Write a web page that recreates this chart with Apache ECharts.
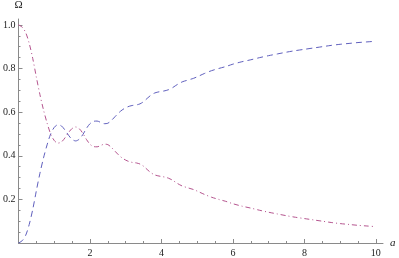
<!DOCTYPE html>
<html>
<head>
<meta charset="utf-8">
<script src="https://cdn.jsdelivr.net/npm/echarts@6/dist/echarts.min.js"></script>
<style>
html,body{margin:0;padding:0;background:#fff;}
#chart{width:399px;height:258px;}
</style>
</head>
<body>
<div id="chart"></div>
<script>
// a values
var aValues = [0,0.1,0.2,0.3,0.4,0.5,0.6,0.7,0.8,0.9,1.0,1.1,1.2,1.3,1.4,1.5,1.6,1.7,1.8,1.9,2.0,2.1,2.2,2.3,2.4,2.5,2.6,2.7,2.8,2.9,3.0,3.1,3.2,3.3,3.4,3.5,3.6,3.7,3.8,3.9,4.0,4.1,4.2,4.3,4.4,4.5,4.6,4.7,4.8,4.9,5.0,5.2,5.4,5.6,5.8,6.0,6.25,6.5,6.75,7.0,7.25,7.5,7.75,8.0,8.25,8.5,8.75,9.0,9.25,9.5,9.75,10];
// blue dashed series
var blueValues = [0,0.01,0.035,0.085,0.155,0.24,0.32,0.39,0.45,0.5,0.53,0.542,0.537,0.518,0.494,0.475,0.468,0.476,0.497,0.525,0.547,0.558,0.559,0.553,0.547,0.549,0.562,0.579,0.596,0.61,0.62,0.627,0.631,0.633,0.638,0.648,0.663,0.677,0.687,0.692,0.695,0.698,0.703,0.711,0.722,0.732,0.74,0.745,0.75,0.755,0.762,0.777,0.79,0.8,0.809,0.82,0.831,0.84,0.85,0.859,0.867,0.875,0.882,0.888,0.894,0.9,0.906,0.911,0.915,0.919,0.922,0.925];
// red dot-dashed series
var redValues = [1,0.99,0.965,0.915,0.845,0.76,0.68,0.61,0.55,0.5,0.47,0.458,0.463,0.482,0.506,0.525,0.532,0.524,0.503,0.475,0.453,0.442,0.441,0.447,0.453,0.451,0.438,0.421,0.404,0.39,0.38,0.373,0.369,0.367,0.362,0.352,0.337,0.323,0.313,0.308,0.305,0.302,0.297,0.289,0.278,0.268,0.26,0.255,0.25,0.245,0.238,0.223,0.21,0.2,0.191,0.18,0.169,0.16,0.15,0.141,0.133,0.125,0.118,0.112,0.106,0.1,0.094,0.089,0.085,0.081,0.078,0.075];
// tick labels
var xMajorTicks = [2,4,6,8,10];
var xMinorTicks = [0.5,1,1.5,2.5,3,3.5,4.5,5,5.5,6.5,7,7.5,8.5,9,9.5];
var yMajorTicks = [0.2,0.4,0.6,0.8,1.0];
var yMinorTicks = [0.05,0.1,0.15,0.25,0.3,0.35,0.45,0.5,0.55,0.65,0.7,0.75,0.85,0.9,0.95];

function pairs(xs, ys){ return xs.map(function(x,i){ return [x, ys[i]]; }); }

var fontFam = "'Liberation Serif','DejaVu Serif',serif";
var axisCol = '#8a8a8a';

var chart = echarts.init(document.getElementById('chart'), null, {renderer:'canvas'});
chart.setOption({
  animation:false,
  backgroundColor:'#fff',
  grid:{left:16, right:16, top:18, bottom:14, containLabel:false},
  xAxis:[{
    type:'value', min:0, max:10.2,
    name:'a', nameLocation:'end', nameGap:7,
    nameTextStyle:{fontFamily:fontFam, fontStyle:'italic', fontSize:11, color:'#222', verticalAlign:'middle'},
    axisLine:{show:true, onZero:false, lineStyle:{color:axisCol, width:1}},
    axisTick:{show:true, inside:true, length:4, customValues:xMajorTicks, lineStyle:{color:axisCol}},
    axisLabel:{show:true, customValues:xMajorTicks, fontFamily:fontFam, fontSize:10, color:'#222', margin:5},
    splitLine:{show:false}
  },{
    type:'value', min:0, max:10.2, position:'bottom',
    axisLine:{show:false},
    axisTick:{show:true, inside:true, length:2, customValues:xMinorTicks, lineStyle:{color:axisCol}},
    axisLabel:{show:false},
    splitLine:{show:false}
  }],
  yAxis:[{
    type:'value', min:0, max:1.027,
    name:'Ω', nameLocation:'end', nameGap:8,
    nameTextStyle:{fontFamily:fontFam, fontSize:11, color:'#222', align:'center'},
    axisLine:{show:true, onZero:false, lineStyle:{color:axisCol, width:1}},
    axisTick:{show:true, inside:true, length:4, customValues:yMajorTicks, lineStyle:{color:axisCol}},
    axisLabel:{show:true, customValues:yMajorTicks, fontFamily:fontFam, fontSize:10, color:'#222', margin:3,
      formatter:function(v){ return v.toFixed(1); }},
    splitLine:{show:false}
  },{
    type:'value', min:0, max:1.027, position:'left',
    axisLine:{show:false},
    axisTick:{show:true, inside:true, length:2, customValues:yMinorTicks, lineStyle:{color:axisCol}},
    axisLabel:{show:false},
    splitLine:{show:false}
  }],
  series:[{
    type:'line', xAxisIndex:0, yAxisIndex:0, data:pairs(aValues, blueValues),
    smooth:0.3, showSymbol:false,
    lineStyle:{color:'#5f5fbd', width:1, type:[6,4]}
  },{
    type:'line', xAxisIndex:0, yAxisIndex:0, data:pairs(aValues, redValues),
    smooth:0.3, showSymbol:false,
    lineStyle:{color:'#b5558f', width:1, type:[5,3,1,3]}
  }]
});
</script>
</body>
</html>
